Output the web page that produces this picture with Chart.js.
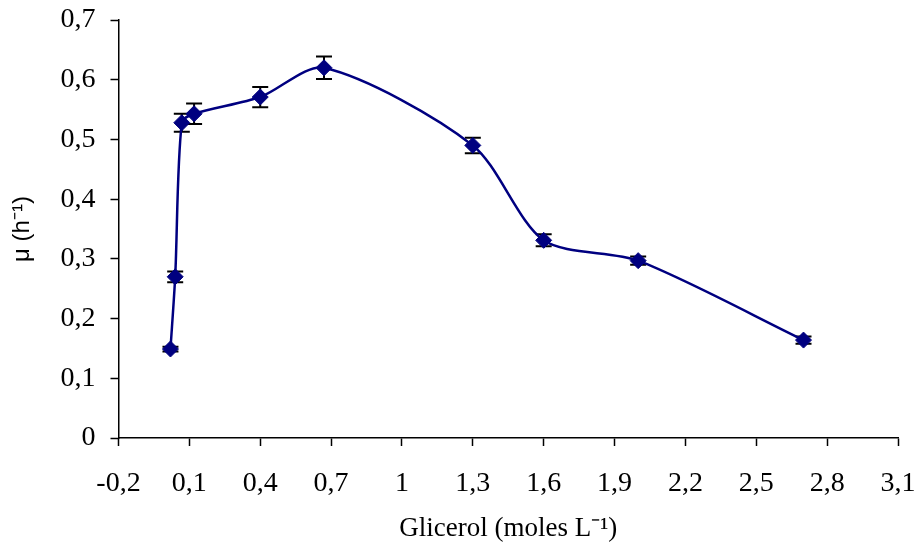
<!DOCTYPE html>
<html>
<head>
<meta charset="utf-8">
<script src="https://cdn.jsdelivr.net/npm/chart.js@4.4.1/dist/chart.umd.min.js"></script>
<style>
  body { margin: 0; background: #fff; }
  canvas { display: block; }
</style>
</head>
<body>
<canvas id="muChart" width="917" height="545"></canvas>
<script>
// Datos: glicerol (moles/L) vs mu (h-1)
const glicerol = [0.02, 0.04, 0.068, 0.12, 0.4, 0.67, 1.3, 1.6, 2.0, 2.7];
const mu = [0.149, 0.27, 0.528, 0.543, 0.571, 0.62, 0.49, 0.331, 0.297, 0.164];
const muError = [0.004, 0.009, 0.015, 0.017, 0.017, 0.019, 0.013, 0.01, 0.007, 0.006];

const xTicks = [-0.2, 0.1, 0.4, 0.7, 1, 1.3, 1.6, 1.9, 2.2, 2.5, 2.8, 3.1];
const yTicks = [0, 0.1, 0.2, 0.3, 0.4, 0.5, 0.6, 0.7];

const points = glicerol.map((x, i) => ({ x: x, y: mu[i] }));

// coma decimal
function formatTick(v) {
    const r = Math.round(v * 10) / 10;
    return String(r).replace('.', ',');
}

// barras de error
const errorBars = {
    id: 'errorBars',
    beforeDatasetsDraw(chart) {
        const ctx = chart.ctx;
        const xs = chart.scales.x;
        const ys = chart.scales.y;
        ctx.save();
        ctx.strokeStyle = '#000';
        ctx.lineWidth = 2;
        glicerol.forEach((g, i) => {
            const px = xs.getPixelForValue(g);
            const top = ys.getPixelForValue(mu[i] + muError[i]);
            const bot = ys.getPixelForValue(mu[i] - muError[i]);
            ctx.beginPath();
            ctx.moveTo(px, top);
            ctx.lineTo(px, bot);
            ctx.moveTo(px - 8, top);
            ctx.lineTo(px + 8, top);
            ctx.moveTo(px - 8, bot);
            ctx.lineTo(px + 8, bot);
            ctx.stroke();
        });
        ctx.restore();
    }
};

const serif = "'Liberation Serif', 'Times New Roman', serif";

const ctx = document.getElementById('muChart').getContext('2d');
const muChart = new Chart(ctx, {
    type: 'scatter',
    data: {
        datasets: [{
            data: points,
            showLine: true,
            tension: 0.28,
            borderColor: '#000080',
            borderWidth: 2.5,
            pointStyle: 'rectRot',
            pointRadius: 8,
            pointBackgroundColor: '#000080',
            pointBorderColor: '#000080',
            pointBorderWidth: 1
        }]
    },
    options: {
        responsive: false,
        animation: false,
        layout: { padding: { top: 20, right: 19, left: 0, bottom: 0 } },
        plugins: {
            legend: { display: false },
            tooltip: { enabled: false }
        },
        scales: {
            x: {
                type: 'linear',
                min: -0.2,
                max: 3.1,
                afterBuildTicks: axis => { axis.ticks = xTicks.map(v => ({ value: v })); },
                afterFit: scale => {
                    scale.height = 107;
                    scale.paddingLeft = 0;
                    scale.paddingRight = 0;
                },
                border: { color: '#000', width: 1.5 },
                grid: {
                    drawOnChartArea: false,
                    color: '#000',
                    tickLength: 8,
                    tickWidth: 1.5
                },
                ticks: {
                    color: '#000',
                    padding: 21,
                    maxRotation: 0,
                    font: { family: serif, size: 28 },
                    callback: v => formatTick(v)
                },
                title: {
                    display: true,
                    text: 'Glicerol (moles L⁻¹)',
                    color: '#000',
                    padding: 0,
                    font: { family: serif, size: 27 }
                }
            },
            y: {
                type: 'linear',
                min: 0,
                max: 0.7,
                afterBuildTicks: axis => { axis.ticks = yTicks.map(v => ({ value: v })); },
                afterFit: scale => {
                    scale.width = 118.5;
                    scale.paddingTop = 0;
                    scale.paddingBottom = 0;
                },
                border: { color: '#000', width: 1.5 },
                grid: {
                    drawOnChartArea: false,
                    color: '#000',
                    tickLength: 8,
                    tickWidth: 1.5
                },
                ticks: {
                    color: '#000',
                    padding: 15,
                    font: { family: serif, size: 28 },
                    callback: v => formatTick(v)
                },
                title: {
                    display: true,
                    text: 'μ (h⁻¹)',
                    color: '#000',
                    padding: { top: 8, bottom: 0 },
                    font: { family: "'Liberation Sans', Arial, sans-serif", size: 24 }
                }
            }
        }
    },
    plugins: [errorBars]
});
</script>
</body>
</html>
